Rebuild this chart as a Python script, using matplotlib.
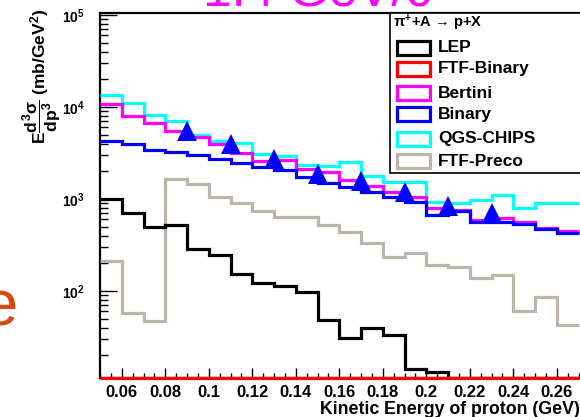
import numpy as np
import matplotlib
matplotlib.use('Agg')
import matplotlib.pyplot as plt
from matplotlib.patches import Rectangle
from matplotlib.ticker import MultipleLocator, LogLocator, LogFormatterMathtext, NullFormatter

plt.rcParams['font.family'] = ['Liberation Sans', 'DejaVu Sans']
plt.rcParams['font.weight'] = 'bold'
plt.rcParams['mathtext.fontset'] = 'custom'
plt.rcParams['mathtext.rm'] = 'Liberation Sans:bold'
plt.rcParams['mathtext.it'] = 'Liberation Sans:bold'
plt.rcParams['mathtext.bf'] = 'Liberation Sans:bold'

# ---- data: bins of 0.01 GeV from 0.05 to 0.27 ----
edges = np.round(np.arange(0.05, 0.2701, 0.01), 3)

lep = [1000, 705, 496, 522, 286, 246, 153, 122, 113, 97.5, 48, 31, 40, 33,
       14.2, 13.2, 0, 0, 0, 0, 0, 0]
ftf_binary = [0] * 22
bertini = [10780, 7985, 6700, 5485, 4720, 3960, 3160, 2588, 2654, 2120, 1966,
           1609, 1384, 1192, 1051, 798, 759, 591, 622, 562, 484, 449]
binary = [4270, 3960, 3410, 3243, 3008, 2721, 2462, 2227, 2067, 1735, 1493,
          1350, 1192, 1051, 928, 670, 741, 562, 562, 535, 472, 427]
qgs_chips = [13500, 11050, 8185, 7050, 4962, 4270, 4062, 3085, 2934, 2342, 2284,
             2525, 1778, 1530, 1530, 928, 905, 975, 1105, 798, 905, 905]
ftf_preco = [212, 57.7, 47, 1650, 1455, 1052, 905, 741, 637, 637, 522, 437,
             332, 234, 259, 192, 182, 138, 149, 60.7, 86, 42.6]

data_x = [0.09, 0.11, 0.13, 0.15, 0.17, 0.19, 0.21, 0.23]
data_y = [5480, 3960, 2720, 1870, 1570, 1190, 840, 705]

labels = ['LEP', 'FTF-Binary', 'Bertini', 'Binary', 'QGS-CHIPS', 'FTF-Preco']
colors = ['black', '#ff0000', '#ff00ff', '#0000ff', '#00ffff', '#bdb5aa']

ylo, yhi = 11.33, 1.0513e5

W, H = 580, 417
fig = plt.figure(figsize=(W / 100, H / 100), dpi=100)
ax = fig.add_axes([100 / W, 1 - 378 / H, 480 / W, 365 / H])

series = {'QGS-CHIPS': qgs_chips, 'Bertini': bertini, 'Binary': binary,
          'FTF-Preco': ftf_preco, 'LEP': lep, 'FTF-Binary': ftf_binary}
for name, vals in series.items():
    c = colors[labels.index(name)]
    v = np.clip(np.array(vals, dtype=float), ylo, None)
    ax.stairs(v, edges, baseline=None, color=c, lw=2.3,
              clip_on=(name != 'FTF-Binary'), zorder=3)

ax.plot(data_x, data_y, '^', color='#0000ff', markersize=14.5, zorder=5,
        markeredgewidth=0)

ax.set_yscale('log')
ax.set_xlim(0.05, 0.05 + 480 / 2175)
ax.set_ylim(ylo, yhi)

ax.xaxis.set_major_locator(MultipleLocator(0.02))
ax.xaxis.set_minor_locator(MultipleLocator(0.005))
ax.xaxis.set_major_formatter(plt.FuncFormatter(lambda v, p: f'{v:g}'))
ax.yaxis.set_major_locator(LogLocator(base=10))
ax.yaxis.set_minor_locator(LogLocator(base=10, subs=np.arange(2, 10)))
ax.yaxis.set_major_formatter(LogFormatterMathtext())
ax.yaxis.set_minor_formatter(NullFormatter())

ax.tick_params(axis='x', which='major', direction='in', length=7, width=1,
               labelsize=12, pad=5)
ax.tick_params(axis='x', which='minor', direction='in', length=3.5, width=1)
ax.tick_params(axis='y', which='major', direction='in', length=12, width=1,
               labelsize=10, pad=11)
ax.tick_params(axis='y', which='minor', direction='in', length=6, width=1)

for s in ['left', 'top', 'bottom']:
    ax.spines[s].set_linewidth(1.6)
ax.spines['right'].set_visible(False)


def fx(px):
    return px / W


def fy(py):
    return 1 - py / H


# slide fragments (mostly cut off by the picture edges)
fig.text(fx(203), fy(6), '1.4 GeV/c', color='#ff00ff', fontsize=37,
         fontweight='normal', ha='left', va='baseline', zorder=1)
fig.text(fx(17), fy(325), 'e', color='#d9480f', fontsize=47,
         fontweight='normal', ha='right', va='baseline')

# legend box
fig.patches.append(Rectangle((fx(390), fy(173)), fx(200), 160 / H,
                             transform=fig.transFigure, facecolor='white',
                             edgecolor='black', lw=1.2, zorder=10))
fig.text(fx(393), fy(23), r'$\pi^{+}$+A → p+X', fontsize=10.5,
         va='center', ha='left', zorder=11)
ys = [48, 69, 93, 114, 139, 161]
for lab, c, yy in zip(labels, colors, ys):
    fig.patches.append(Rectangle((fx(397), fy(yy + 7)), fx(33), 14 / H,
                                 transform=fig.transFigure, facecolor='white',
                                 edgecolor=c, lw=2.3, zorder=11))
    fig.text(fx(438), fy(yy), lab, fontsize=12.5, va='center', ha='left',
             zorder=11)

# axis titles
fig.text(fx(42), fy(9), r'E$\dfrac{d^{3}\sigma}{dp^{3}}$ (mb/GeV$^{2}$)',
         rotation=90, ha='center', va='top', fontsize=12.5)
fig.text(1.0, fy(409), 'Kinetic Energy of proton (GeV)', ha='right',
         va='center', fontsize=12.8)

fig.savefig('out.png', dpi=100)
